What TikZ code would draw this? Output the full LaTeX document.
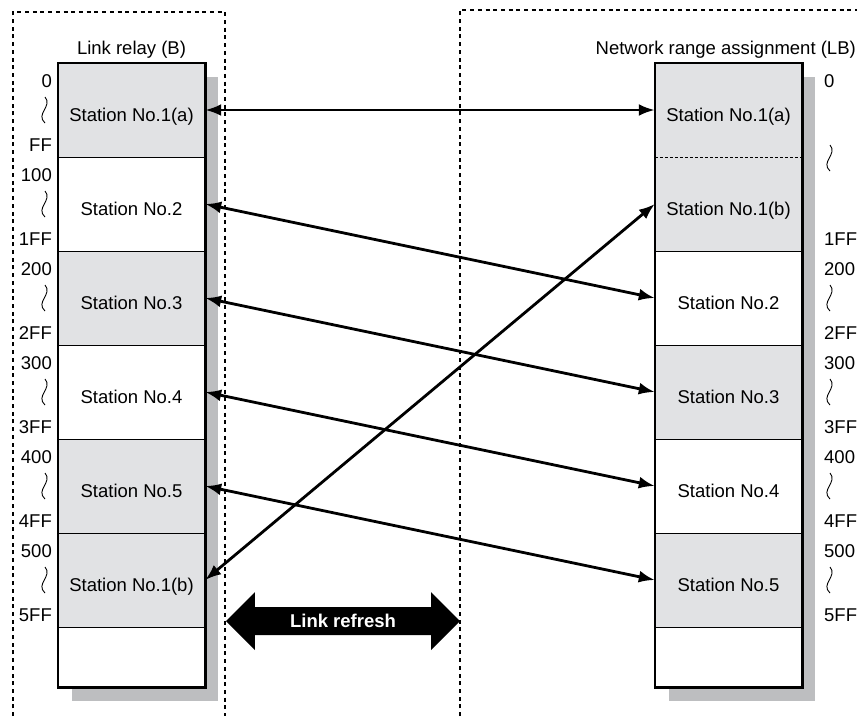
\documentclass[tikz,border=0pt]{standalone}
\usepackage{fontspec}
\setmainfont{Liberation Sans}
\usepackage{tikz}
\usetikzlibrary{arrows.meta,positioning,calc,shapes.arrows}
\definecolor{cellgray}{RGB}{225,226,228}
\definecolor{shadegray}{RGB}{189,190,192}
\newcommand\lrfont{\fontsize{18.5}{22}\selectfont}
\tikzset{
  lrcell/.style={fill=white, minimum width=147pt, minimum height=94pt, inner sep=0pt,
    text height=23pt, text depth=0pt, font=\lrfont},
  lrgray/.style={lrcell, fill=cellgray},
  lrshadow/.style={fill=shadegray},
  rowline/.style={line width=1.3pt},
  rowdash/.style={line width=0.9pt, dash pattern=on 3pt off 2pt},
  colframe/.style={line width=2.6pt},
  zoneline/.style={line width=2.8pt, dash pattern=on 4pt off 3.7pt},
  addr/.style={font=\lrfont, inner sep=0pt},
  lrtitle/.style={font=\lrfont, inner sep=0pt},
  linkarrow/.style={{Latex[length=16pt,width=12pt]}-{Latex[length=16pt,width=12pt]}, line width=2.8pt},
  refresh/.style={double arrow, fill=black, text=white, font=\lrfont\bfseries,
    minimum height=234pt, minimum width=57pt, double arrow head extend=15pt,
    inner xsep=0pt, inner ysep=7pt},
  addrwave/.pic={\draw[line width=0.9pt] (1,-13) .. controls (9,-4) and (-9,4) .. (1,13);},
}

\begin{document}
\begin{tikzpicture}[x=1pt,y=-1pt]
  \useasboundingbox (0,0) rectangle (857,716);

  % zones
  \draw[zoneline] (13,716) -- (13,12) -- (225,12) -- (225,716);
  \draw[zoneline] (460,716) -- (460,10) -- (857,10);

  % shadows
  \fill[lrshadow] (72,77) rectangle (218,701);
  \fill[lrshadow] (669,77) rectangle (815,701);

  % link relay (B)
  \node[lrtitle] (ltitle) at (131.5,50) {Link relay (B)};
  \node[lrgray] (l1) at (131.5,110) {Station No.1(a)};
  \node[lrcell] (l2) at (131.5,204) {Station No.2};
  \node[lrgray] (l3) at (131.5,298) {Station No.3};
  \node[lrcell] (l4) at (131.5,392) {Station No.4};
  \node[lrgray] (l5) at (131.5,486) {Station No.5};
  \node[lrgray] (l6) at (131.5,580) {Station No.1(b)};
  \node[lrcell, minimum height=60pt] (l7) at (131.5,657) {};

  \draw[rowline] (l1.south west) -- (l1.south east);
  \draw[rowline] (l2.south west) -- (l2.south east);
  \draw[rowline] (l3.south west) -- (l3.south east);
  \draw[rowline] (l4.south west) -- (l4.south east);
  \draw[rowline] (l5.south west) -- (l5.south east);
  \draw[rowline] (l6.south west) -- (l6.south east);
  \draw[colframe] (l1.north west) rectangle (l7.south east);

  \node[addr, anchor=east] (la0) at (52,81) {0};
  \node[addr, anchor=east] (la0e) at (52,145) {FF};
  \node[addr, anchor=east] (la1) at (52,175) {100};
  \node[addr, anchor=east] (la1e) at (52,239) {1FF};
  \node[addr, anchor=east] (la2) at (52,269) {200};
  \node[addr, anchor=east] (la2e) at (52,333) {2FF};
  \node[addr, anchor=east] (la3) at (52,363) {300};
  \node[addr, anchor=east] (la3e) at (52,427) {3FF};
  \node[addr, anchor=east] (la4) at (52,457) {400};
  \node[addr, anchor=east] (la4e) at (52,521) {4FF};
  \node[addr, anchor=east] (la5) at (52,551) {500};
  \node[addr, anchor=east] (la5e) at (52,615) {5FF};
  \pic at (44,110) {addrwave};
  \pic at (44,204) {addrwave};
  \pic at (44,298) {addrwave};
  \pic at (44,392) {addrwave};
  \pic at (44,486) {addrwave};
  \pic at (44,580) {addrwave};

  % network range assignment (LB)
  \node[lrtitle, anchor=east] (rtitle) at (856,50) {Network range assignment (LB)};
  \node[lrgray] (r1a) at (728.5,110) {Station No.1(a)};
  \node[lrgray] (r1b) at (728.5,204) {Station No.1(b)};
  \node[lrcell] (r2) at (728.5,298) {Station No.2};
  \node[lrgray] (r3) at (728.5,392) {Station No.3};
  \node[lrcell] (r4) at (728.5,486) {Station No.4};
  \node[lrgray] (r5) at (728.5,580) {Station No.5};
  \node[lrcell, minimum height=60pt] (r7) at (728.5,657) {};

  \draw[rowdash] (r1a.south west) -- (r1a.south east);
  \draw[rowline] (r1b.south west) -- (r1b.south east);
  \draw[rowline] (r2.south west) -- (r2.south east);
  \draw[rowline] (r3.south west) -- (r3.south east);
  \draw[rowline] (r4.south west) -- (r4.south east);
  \draw[rowline] (r5.south west) -- (r5.south east);
  \draw[colframe] (r1a.north west) rectangle (r7.south east);

  \node[addr, anchor=west] (ra0) at (824,81) {0};
  \node[addr, anchor=west] (ra1e) at (824,239) {1FF};
  \node[addr, anchor=west] (ra2) at (824,269) {200};
  \node[addr, anchor=west] (ra2e) at (824,333) {2FF};
  \node[addr, anchor=west] (ra3) at (824,363) {300};
  \node[addr, anchor=west] (ra3e) at (824,427) {3FF};
  \node[addr, anchor=west] (ra4) at (824,457) {400};
  \node[addr, anchor=west] (ra4e) at (824,521) {4FF};
  \node[addr, anchor=west] (ra5) at (824,551) {500};
  \node[addr, anchor=west] (ra5e) at (824,615) {5FF};
  \pic at (829,158) {addrwave};
  \pic at (829,298) {addrwave};
  \pic at (829,392) {addrwave};
  \pic at (829,486) {addrwave};
  \pic at (829,580) {addrwave};

  % transfers
  \draw[linkarrow] (l1.east) -- (r1a.west);
  \draw[linkarrow] (l2.east) -- (r2.west);
  \draw[linkarrow] (l3.east) -- (r3.west);
  \draw[linkarrow] (l4.east) -- (r4.west);
  \draw[linkarrow] (l5.east) -- (r5.west);
  \draw[linkarrow] (l6.east) -- (r1b.west);

  \node[refresh] (refresh) at (343,621) {Link refresh};
\end{tikzpicture}
\end{document}
